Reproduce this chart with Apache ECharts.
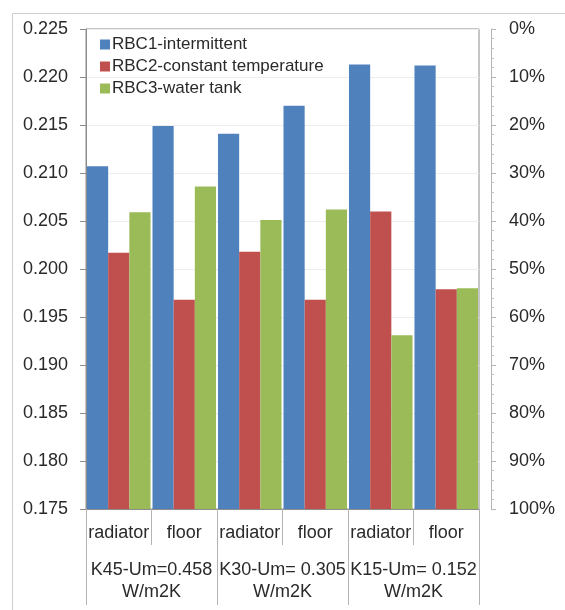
<!DOCTYPE html>
<html>
<head>
<meta charset="utf-8">
<script src="https://cdn.jsdelivr.net/npm/echarts@6/dist/echarts.min.js"></script>
<style>
  html, body { margin: 0; padding: 0; background: #fff; }
  #chart { width: 565px; height: 610px; }
</style>
</head>
<body>
<div id="chart"></div>
<script>
// categories
var systems = ['radiator', 'floor', 'radiator', 'floor', 'radiator', 'floor'];
var buildings = ['K45-Um=0.458\nW/m2K', 'K30-Um= 0.305\nW/m2K', 'K15-Um= 0.152\nW/m2K'];
// series values
var rbc1 = [0.2107, 0.2149, 0.2141, 0.2170, 0.2213, 0.2212];
var rbc2 = [0.2017, 0.1968, 0.2018, 0.1968, 0.2060, 0.1979];
var rbc3 = [0.2059, 0.2086, 0.2051, 0.2062, 0.1931, 0.1980];
var seriesNames = ['RBC1-intermittent', 'RBC2-constant temperature', 'RBC3-water tank'];

var font = 'Liberation Sans';
var txt = '#2a2a2a';
var chart = echarts.init(document.getElementById('chart'));

var option = {
    animation: false,
    textStyle: { fontFamily: font },
    graphic: [{
        type: 'rect',
        shape: { x: 12.5, y: 13.5, width: 600, height: 650 },
        style: { fill: 'none', stroke: '#cfcfcf', lineWidth: 1 },
        silent: true
    }],
    grid: [{
        left: 86, right: 86, top: 29, bottom: 101,
        show: true, borderColor: '#8c8c8c', borderWidth: 1
    }, {
        left: 86, right: 86, top: 29, bottom: 101, show: false
    }],
    legend: {
        orient: 'vertical',
        left: 95, top: 31,
        icon: 'rect',
        itemWidth: 10, itemHeight: 10, itemGap: 5,
        textStyle: { fontSize: 17, color: txt, fontFamily: font, padding: [0, 0, 0, -3] },
        data: seriesNames
    },
    xAxis: [{
        type: 'category',
        gridIndex: 0,
        data: systems,
        axisLine: { onZero: false, lineStyle: { color: '#8c8c8c' } },
        axisTick: { show: true, length: 36, lineStyle: { color: '#b4b4b4' } },
        axisLabel: { interval: 0, fontSize: 18, color: txt, margin: 15 },
        splitLine: { show: false }
    }, {
        type: 'category',
        gridIndex: 1,
        data: buildings,
        position: 'bottom',
        axisLine: { show: false, onZero: false },
        axisTick: { show: true, length: 96, lineStyle: { color: '#b4b4b4' } },
        axisLabel: { interval: 0, fontSize: 18, color: txt, margin: 50, lineHeight: 22 },
        splitLine: { show: false }
    }],
    yAxis: [{
        type: 'value',
        gridIndex: 0,
        min: 0.175, max: 0.225, interval: 0.005,
        axisLine: { show: true, lineStyle: { color: '#8c8c8c' } },
        axisTick: { show: true, length: 6, lineStyle: { color: '#8c8c8c' } },
        axisLabel: {
            fontSize: 18, color: txt, margin: 18,
            formatter: function (v) { return v.toFixed(3); }
        },
        splitLine: { show: true, lineStyle: { color: '#ededed' } }
    }, {
        type: 'value',
        gridIndex: 0,
        position: 'right',
        inverse: true,
        offset: 12,
        min: 0, max: 100, interval: 10,
        axisLine: { show: true, onZero: false, lineStyle: { color: '#b4b4b4' } },
        axisTick: { show: true, length: 5, lineStyle: { color: '#b4b4b4' } },
        minorTick: { show: true, splitNumber: 5, length: 3, lineStyle: { color: '#c4c4c4' } },
        axisLabel: { fontSize: 18, color: txt, margin: 18, formatter: '{value}%' },
        splitLine: { show: false }
    }, {
        type: 'value',
        gridIndex: 1,
        show: false
    }],
    series: [{
        name: seriesNames[0], type: 'bar', data: rbc1,
        itemStyle: { color: '#4f81bd' }, barGap: '0%', barCategoryGap: '3%'
    }, {
        name: seriesNames[1], type: 'bar', data: rbc2,
        itemStyle: { color: '#c0504d' }
    }, {
        name: seriesNames[2], type: 'bar', data: rbc3,
        itemStyle: { color: '#9bbb59' }
    }]
};
chart.setOption(option);
</script>
</body>
</html>
